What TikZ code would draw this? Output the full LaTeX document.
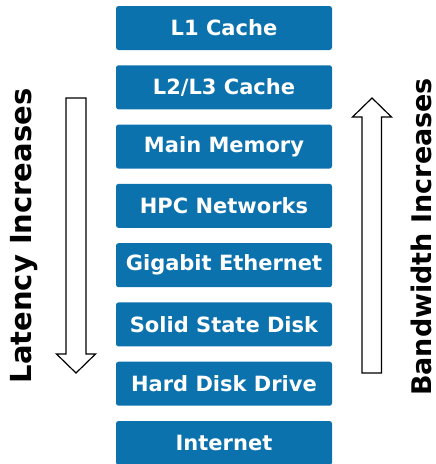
\documentclass[tikz,border=0pt]{standalone}
\usepackage{fontspec}
\setmainfont{DejaVu Sans}
\definecolor{tierblue}{HTML}{0C72AD}
\begin{document}
\begin{tikzpicture}[x=1pt,y=1pt,
  tier/.style={fill=tierblue, draw=none, rounded corners=2.5pt,
    minimum width=216pt, minimum height=44pt, inner sep=0pt,
    text=white, font=\fontsize{21}{24}\selectfont\bfseries},
  sidelabel/.style={font=\fontsize{29}{33}\selectfont\bfseries, text=black, inner sep=0pt},
  hollow/.style={draw=black, line width=1.2pt, fill=white, line join=miter}]
\useasboundingbox (0,0) rectangle (436,-464);
\foreach \name/\txt [count=\i from 0] in {l1/L1 Cache, l2/L2{/}L3 Cache, mm/Main Memory, hpc/HPC Networks, gig/Gigabit Ethernet, ssd/Solid State Disk, hdd/Hard Disk Drive, net/Internet}
  \node[tier] (\name) at (224,{-28-59.29*\i}) {\txt};

% latency arrow pointing down
\draw[hollow] (66,-98) -- (86,-98) -- (86,-354) -- (95.5,-354) -- (76,-373)
  -- (56.5,-354) -- (66,-354) -- cycle;
% bandwidth arrow pointing up
\draw[hollow] (362,-373) -- (381.5,-373) -- (381.5,-117) -- (391.5,-117) -- (372,-98)
  -- (352.5,-117) -- (362,-117) -- cycle;

\node[sidelabel, rotate=90] (lat) at (24,-236) {Latency Increases};
\node[sidelabel, rotate=90, font=\fontsize{27}{31}\selectfont\bfseries] (bw) at (421,-237) {Bandwidth Increases};
\end{tikzpicture}
\end{document}
